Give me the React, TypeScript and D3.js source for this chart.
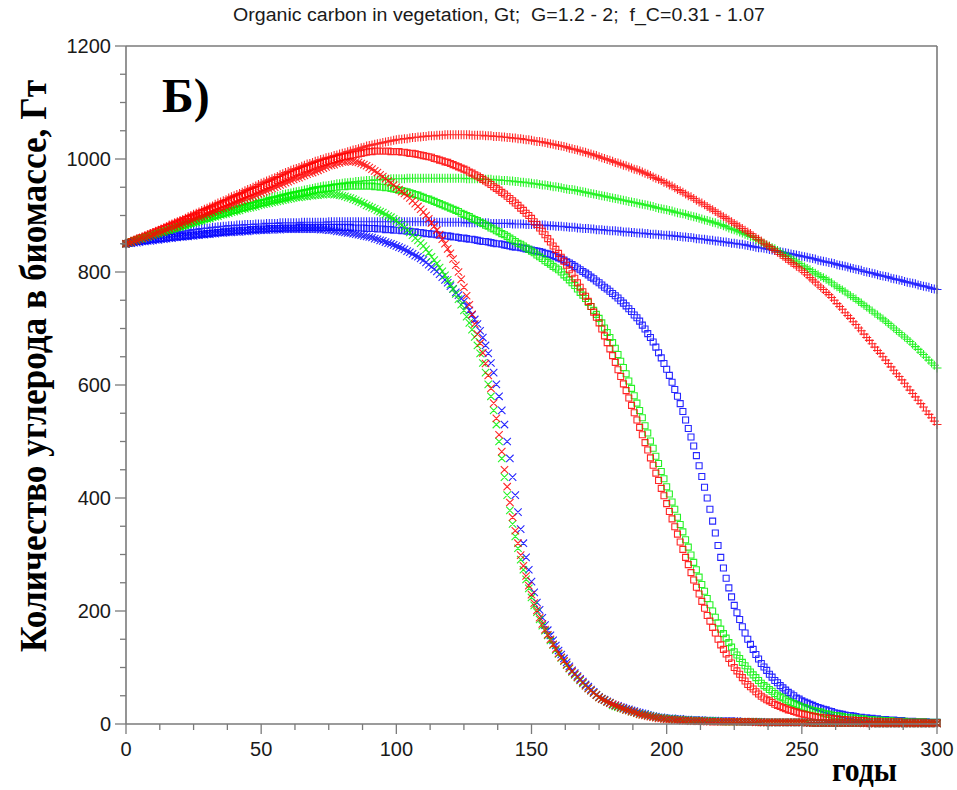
import React from "react";
import * as d3 from "d3";

// ---- data (one value per year, t = 0..300) ----
const bluePlus = [850,851,853,854,855,856,857,858,860,861,
862,863,864,865,866,867,868,869,870,870,
871,872,872,873,874,875,875,876,877,877,
878,878,879,879,880,880,881,881,882,882,
882,883,883,883,884,884,884,884,885,885,
885,885,886,886,886,886,886,887,887,887,
887,887,887,887,887,888,888,888,888,888,
888,888,888,888,888,889,889,889,889,889,
889,889,889,889,889,889,889,889,889,889,
889,889,889,889,889,889,889,889,889,889,
889,889,889,889,889,889,889,889,889,889,
889,889,889,889,889,888,888,888,888,888,
888,888,888,888,888,888,887,887,887,887,
887,887,887,887,887,886,886,886,886,886,
886,886,886,885,885,885,885,885,884,884,
884,884,883,883,883,883,882,882,882,881,
881,881,880,880,879,879,879,878,878,877,
877,877,876,876,875,875,875,874,874,873,
873,873,872,872,871,871,871,870,870,869,
869,869,868,868,867,867,867,866,866,865,
865,865,864,864,863,863,862,862,861,861,
860,859,859,858,858,857,856,856,855,855,
854,853,853,852,851,851,850,849,849,848,
847,846,845,844,843,843,842,841,840,839,
838,837,836,835,834,833,832,831,830,829,
828,827,826,825,824,823,821,820,819,818,
817,816,815,813,812,811,810,809,807,806,
805,804,803,801,800,799,798,797,795,794,
793,792,791,789,788,787,786,785,783,782,
781,780,779,777,776,775,774,773,771,770,
769];

const greenPlus = [850,852,853,855,856,858,859,861,862,864,
865,867,868,870,872,874,875,877,879,880,
882,884,885,887,889,891,892,894,896,897,
899,901,902,904,905,907,908,910,911,913,
914,915,917,918,919,921,922,923,924,926,
927,928,929,931,932,933,934,935,937,938,
939,940,941,942,943,944,945,946,947,948,
949,950,951,952,952,953,954,955,956,956,
957,958,958,959,959,960,960,961,961,962,
962,962,963,963,963,964,964,964,965,965,
965,965,965,965,966,966,966,966,966,966,
966,966,966,966,966,966,966,966,966,966,
966,966,966,966,966,966,965,965,965,965,
965,965,964,964,964,964,963,963,963,962,
962,962,961,961,960,960,959,959,958,958,
957,956,956,955,954,954,953,952,951,951,
950,949,948,947,946,946,945,944,943,942,
941,940,939,938,937,936,935,934,933,932,
931,930,929,928,927,926,925,924,923,922,
921,920,919,918,917,916,914,913,912,911,
910,909,908,906,905,904,903,902,900,899,
898,897,895,894,892,891,890,888,887,885,
884,882,880,878,876,875,873,871,869,867,
865,863,861,858,856,853,851,848,846,843,
841,838,835,832,829,827,824,821,818,815,
812,809,806,804,801,798,795,792,790,787,
784,781,777,774,771,768,765,761,758,755,
752,748,745,741,738,734,731,727,724,720,
717,713,709,705,701,697,693,689,685,681,
677,672,668,663,658,654,649,644,639,635,
630];

const redPlus = [850,852,854,856,858,860,862,864,866,868,
870,872,874,876,878,880,883,885,887,889,
891,893,895,898,900,902,904,906,909,911,
913,915,917,920,922,924,926,928,931,933,
935,937,939,941,944,946,948,950,952,955,
957,959,961,963,965,967,969,972,974,976,
978,980,982,983,985,987,989,991,992,994,
996,997,999,1000,1002,1003,1004,1006,1007,1009,
1010,1011,1013,1014,1016,1017,1018,1020,1021,1023,
1024,1025,1026,1027,1028,1029,1030,1031,1032,1033,
1034,1035,1035,1036,1036,1037,1038,1038,1039,1039,
1040,1040,1041,1041,1041,1042,1042,1042,1043,1043,
1043,1043,1043,1043,1043,1043,1043,1043,1042,1042,
1042,1042,1042,1041,1041,1041,1040,1040,1040,1039,
1039,1038,1038,1037,1037,1036,1036,1035,1034,1034,
1033,1032,1031,1031,1030,1029,1028,1027,1026,1025,
1024,1023,1022,1021,1019,1018,1017,1016,1014,1013,
1012,1010,1009,1007,1006,1004,1002,1001,999,998,
996,994,993,991,989,988,986,984,982,981,
979,977,975,973,971,968,966,964,962,959,
957,954,952,949,946,944,941,938,935,933,
930,927,924,922,919,916,913,910,907,904,
901,898,895,892,889,886,883,880,877,874,
871,868,864,861,858,855,851,848,845,841,
838,835,831,828,824,821,817,814,810,807,
803,799,795,790,786,782,777,773,769,764,
760,755,750,744,739,734,728,723,718,712,
707,701,696,690,684,679,673,667,661,656,
650,644,638,632,626,620,615,609,603,597,
591,585,579,573,567,561,554,548,542,536,
530];

const blueSquare = [850,851,852,853,854,854,855,856,856,857,
857,858,859,859,860,860,861,861,862,862,
863,863,864,864,865,865,866,866,867,867,
868,868,869,869,870,870,871,871,872,872,
873,873,873,874,874,874,875,875,875,876,
876,876,876,877,877,877,877,877,878,878,
878,878,878,878,879,879,879,879,879,879,
879,879,879,879,879,879,879,879,879,879,
879,879,879,879,878,878,878,878,878,877,
877,877,877,876,876,876,875,875,875,874,
874,874,873,873,872,872,871,871,870,870,
869,868,868,867,867,866,865,865,864,864,
863,862,862,861,860,860,859,858,858,857,
856,855,854,854,853,852,851,850,850,849,
848,847,846,845,844,844,843,842,841,840,
839,838,837,836,835,833,832,831,829,827,
825,823,821,818,816,813,810,807,804,801,
798,795,791,788,784,781,777,773,770,766,
762,758,754,749,745,740,735,730,724,719,
713,706,699,691,684,676,667,657,648,638,
628,617,605,592,580,567,553,538,523,508,
492,475,457,438,419,400,380,359,338,316,
295,276,258,241,225,210,197,185,172,161,
150,141,132,123,115,107,101,95,88,83,
77,73,68,64,60,56,53,50,46,44,
41,39,37,35,33,31,29,28,26,25,
23,22,20,19,18,17,16,15,15,14,
13,12,12,11,11,10,10,9,9,8,
8,8,7,7,7,6,6,6,5,5,
5,5,4,4,4,4,4,3,3,3,
3];

const greenSquare = [850,852,853,855,856,858,859,861,862,864,
865,867,868,870,871,873,874,876,877,879,
880,882,883,885,886,888,889,891,892,894,
895,896,898,899,901,902,903,905,906,908,
909,910,912,913,914,916,917,918,919,921,
922,923,924,926,927,928,929,930,931,932,
934,935,936,937,938,939,940,941,942,944,
945,946,946,947,948,948,949,950,950,951,
951,951,952,952,952,952,952,952,952,952,
952,952,951,951,950,950,949,949,948,947,
946,945,944,943,942,940,939,937,936,934,
932,930,929,927,925,923,921,919,917,915,
913,911,909,907,904,902,900,898,895,893,
891,888,886,883,881,878,876,873,871,868,
866,863,860,857,854,851,849,846,843,840,
837,834,830,827,824,820,817,814,810,807,
804,800,795,791,786,781,776,770,764,759,
753,746,739,732,725,718,710,701,693,684,
675,665,654,642,631,620,607,594,581,568,
555,542,528,515,501,488,474,461,447,434,
420,407,393,380,366,353,340,326,313,299,
286,273,260,247,235,222,211,200,189,179,
168,160,152,144,136,128,122,116,109,103,
97,92,87,82,77,72,68,65,61,58,
54,51,48,46,43,40,38,36,34,32,
30,29,27,26,24,23,22,21,19,18,
17,16,15,15,14,13,12,12,11,11,
10,10,9,9,8,8,8,7,7,7,
6,6,6,6,5,5,5,5,5,4,
4,4,4,4,4,4,3,3,3,3,
3];

const redSquare = [850,852,854,856,858,860,861,863,865,867,
869,871,873,875,877,879,881,883,885,887,
889,891,893,895,897,899,901,903,905,907,
909,911,913,915,917,919,921,923,925,927,
929,931,933,935,937,939,941,943,945,947,
949,951,953,955,957,959,962,964,966,968,
970,972,974,976,978,980,982,983,985,987,
989,991,992,994,995,997,998,999,1001,1002,
1003,1004,1005,1006,1007,1008,1009,1010,1011,1012,
1013,1013,1014,1014,1014,1014,1014,1014,1013,1013,
1013,1013,1012,1012,1011,1010,1010,1009,1008,1007,
1006,1005,1004,1003,1001,1000,998,997,995,994,
992,990,988,986,984,982,980,977,975,972,
970,967,964,961,958,955,951,948,945,941,
938,934,930,926,922,918,913,909,904,900,
895,889,884,878,872,866,859,853,846,840,
833,826,819,812,804,797,789,781,773,765,
757,748,739,729,720,710,699,687,675,664,
652,640,627,615,602,590,577,564,551,538,
525,512,498,485,471,458,444,431,417,404,
390,376,363,349,336,322,309,295,282,268,
255,242,230,217,205,192,182,171,161,150,
140,132,124,116,108,100,94,88,82,76,
70,66,62,57,53,49,46,43,41,38,
35,33,31,29,27,25,24,22,21,19,
18,17,16,15,14,13,12,12,11,11,
10,10,9,9,8,8,8,7,7,7,
6,6,6,6,5,5,5,5,5,4,
4,4,4,4,4,4,4,3,3,3,
3,3,3,3,3,3,2,2,2,2,
2];

const blueCross = [850,851,851,852,852,853,854,854,855,855,
856,857,857,858,858,859,860,860,861,861,
862,862,863,863,864,864,865,865,866,866,
867,867,868,868,869,869,869,870,870,870,
871,871,871,872,872,872,873,873,873,874,
874,874,874,875,875,875,875,875,876,876,
876,876,876,876,876,876,876,876,876,876,
876,876,875,875,875,874,874,873,872,872,
871,870,869,869,868,867,866,865,864,863,
862,861,859,858,856,855,853,851,850,848,
846,844,842,840,837,835,832,829,827,824,
821,817,813,809,805,801,796,791,786,781,
775,770,764,759,753,748,740,732,724,716,
708,696,684,670,656,639,622,601,580,555,
530,500,470,437,405,375,345,320,295,273,
252,233,215,202,188,175,166,157,148,139,
130,123,116,109,102,95,90,85,80,75,
70,66,61,57,52,48,45,43,40,38,
35,33,32,30,29,27,26,24,23,21,
20,19,18,16,15,14,13,12,12,11,
10,10,10,9,9,9,8,8,8,7,
7,7,7,7,6,6,6,6,6,5,
5,5,5,5,5,5,5,4,4,4,
4,4,4,4,4,4,3,3,3,3,
3,3,3,3,3,3,3,3,3,3,
3,3,3,2,2,2,2,2,2,2,
2,2,2,2,2,2,2,2,2,2,
2,2,2,2,2,2,1,1,1,1,
1,1,1,1,1,1,1,1,1,1,
1,1,1,1,1,1,1,1,1,1,
1];

const greenCross = [850,852,853,855,856,858,859,861,862,864,
865,867,868,870,871,873,874,876,877,879,
880,881,883,884,886,887,888,890,891,893,
894,895,897,898,899,901,902,903,904,906,
907,908,909,911,912,913,914,915,916,918,
919,920,921,922,923,924,925,926,927,928,
929,930,931,932,932,933,934,934,935,935,
936,936,937,937,938,938,938,937,937,936,
935,934,932,931,929,927,925,923,921,918,
916,914,912,909,907,905,902,899,897,894,
891,887,883,879,874,870,865,860,856,851,
846,840,834,827,821,815,808,801,794,786,
778,770,761,752,742,732,721,710,698,685,
670,656,639,622,601,580,555,530,500,470,
437,405,378,354,332,311,291,273,256,240,
224,210,198,185,174,165,157,148,140,131,
124,117,111,104,98,92,87,82,77,72,
68,63,59,55,51,47,44,42,39,37,
33,31,30,28,27,25,24,22,21,19,
18,17,16,15,14,13,12,11,11,10,
9,9,9,8,8,8,7,7,7,6,
6,6,6,6,5,5,5,5,5,5,
4,4,4,4,4,4,4,4,4,4,
4,4,4,4,4,3,3,3,3,3,
3,3,3,3,3,3,3,3,3,3,
3,3,3,2,2,2,2,2,2,2,
2,2,2,2,2,2,2,2,2,2,
2,2,2,2,2,2,1,1,1,1,
1,1,1,1,1,1,1,1,1,1,
1,1,1,1,1,1,1,1,1,1,
1];

const redCross = [850,852,853,855,856,858,860,861,863,864,
866,868,870,871,873,875,877,879,880,882,
884,886,888,889,891,893,895,897,898,900,
902,904,906,908,910,912,913,915,917,919,
921,923,925,927,929,931,932,934,936,938,
940,942,944,946,948,950,952,954,956,958,
960,962,964,966,967,969,971,973,975,976,
978,980,982,984,986,988,989,990,992,993,
995,995,996,996,996,995,994,992,990,988,
985,982,979,976,972,969,965,961,958,954,
950,946,942,939,935,931,926,921,916,911,
906,900,894,887,881,874,866,858,850,841,
833,823,812,800,787,773,758,742,725,708,
690,674,657,638,617,594,568,541,512,482,
450,420,392,366,342,320,299,280,262,245,
229,214,201,188,177,167,158,150,141,133,
125,118,112,105,99,93,88,83,78,73,
68,63,59,55,51,47,44,42,39,37,
35,33,31,29,27,25,24,22,21,19,
17,16,15,14,13,12,11,10,10,9,
8,8,8,7,7,7,6,6,6,5,
5,5,5,5,5,4,4,4,4,4,
4,4,4,4,4,4,4,4,4,4,
4,4,4,3,3,3,3,3,3,3,
3,3,3,3,3,3,3,3,3,3,
3,3,2,2,2,2,2,2,2,2,
2,2,2,2,2,2,2,2,2,2,
2,2,2,1,1,1,1,1,1,1,
1,1,1,1,1,1,1,1,1,1,
1,1,1,1,1,1,1,1,1,1,
1];

const xTickValues = [0, 50, 100, 150, 200, 250, 300];
const yTickValues = [0, 200, 400, 600, 800, 1000, 1200];

const titleText = "Organic carbon in vegetation, Gt;  G=1.2 - 2;  f_C=0.31 - 1.07";
const yTitleText = "Количество углерода в биомассе, Гт";
const xTitleText = "годы";
const panelLabel = "Б)";

const BLUE = "#0000ff";
const GREEN = "#00f000";
const RED = "#ff0000";

type Marker = "plus" | "square" | "cross";
const seriesList: { values: number[]; color: string; marker: Marker }[] = [
  { values: bluePlus, color: BLUE, marker: "plus" },
  { values: greenPlus, color: GREEN, marker: "plus" },
  { values: redPlus, color: RED, marker: "plus" },
  { values: blueSquare, color: BLUE, marker: "square" },
  { values: greenSquare, color: GREEN, marker: "square" },
  { values: redSquare, color: RED, marker: "square" },
  { values: blueCross, color: BLUE, marker: "cross" },
  { values: greenCross, color: GREEN, marker: "cross" },
  { values: redCross, color: RED, marker: "cross" },
];

export default function App() {
  const x = d3.scaleLinear().domain([0, 300]).range([126, 937]);
  const y = d3.scaleLinear().domain([0, 1200]).range([724, 46]);
  const axisColor = "#7a7a7a";
  const labelColor = "#1a1a1a";
  const sans = "'Liberation Sans', Arial, sans-serif";
  const serif = "'Liberation Serif', 'Times New Roman', serif";

  const xMinor = d3.range(0, 300.01, 12.5);
  const yMinor = d3.range(0, 1200.01, 50);

  const markerPath = (values: number[], marker: Marker) =>
    values
      .map((v, i) => {
        const px = x(i);
        const py = y(v);
        if (marker === "plus") return `M${px - 4.5},${py}h9M${px},${py - 4.5}v9`;
        if (marker === "square") return `M${px - 3},${py - 3}h6v6h-6Z`;
        return `M${px - 3.7},${py - 3.7}l7.4,7.4M${px - 3.7},${py + 3.7}l7.4,-7.4`;
      })
      .join("");

  return (
    <svg
      width={957}
      height={790}
      style={{ position: "absolute", left: 0, top: 0, background: "#fff" }}
    >
      <rect x={0} y={0} width={957} height={790} fill="#fff" />
      <text
        x={499}
        y={21}
        textAnchor="middle"
        fontFamily={sans}
        fontSize={18}
        fill={labelColor}
        textLength={532}
        lengthAdjust="spacingAndGlyphs"
        xmlSpace="preserve"
        style={{ whiteSpace: "pre" }}
      >
        {titleText}
      </text>

      {/* data markers */}
      <g fill="none" strokeWidth={1.1}>
        {seriesList.map((s, k) => (
          <path key={k} d={markerPath(s.values, s.marker)} stroke={s.color} strokeOpacity={0.85} />
        ))}
      </g>

      {/* frame */}
      <g stroke={axisColor} strokeWidth={1.6} fill="none">
        <line x1={x(0)} y1={y(1200)} x2={x(300)} y2={y(1200)} />
        <line x1={x(300)} y1={y(1200)} x2={x(300)} y2={y(0)} />
        <line x1={x(0)} y1={y(0)} x2={x(300)} y2={y(0)} />
        <line x1={x(0)} y1={y(0)} x2={x(0)} y2={y(1200)} />
      </g>

      {/* ticks */}
      <g stroke={axisColor} strokeWidth={1.3}>
        {xMinor.map((t) => (
          <line key={"xm" + t} x1={x(t)} x2={x(t)} y1={y(0)} y2={y(0) + (t % 50 === 0 ? 10 : 6)} />
        ))}
        {yMinor.map((t) => (
          <line key={"ym" + t} x1={x(0)} x2={x(0) - (t % 200 === 0 ? 11 : 6)} y1={y(t)} y2={y(t)} />
        ))}
      </g>

      <g fontFamily={sans} fontSize={20} fill={labelColor}>
        {xTickValues.map((t) => (
          <text key={"xl" + t} x={x(t)} y={756} textAnchor="middle">
            {t}
          </text>
        ))}
        {yTickValues.map((t) => (
          <text key={"yl" + t} x={111} y={y(t) + 7} textAnchor="end">
            {t}
          </text>
        ))}
      </g>

      <text x={162} y={112} fontFamily={serif} fontWeight="bold" fontSize={48} fill="#000">
        {panelLabel}
      </text>

      <text
        transform="translate(46,366) rotate(-90)"
        textAnchor="middle"
        fontFamily={serif}
        fontWeight="bold"
        fontSize={37}
        fill="#000"
        textLength={572}
        lengthAdjust="spacingAndGlyphs"
      >
        {yTitleText}
      </text>

      <text
        x={832}
        y={781}
        fontFamily={serif}
        fontWeight="bold"
        fontSize={34}
        fill="#000"
        textLength={65}
        lengthAdjust="spacingAndGlyphs"
      >
        {xTitleText}
      </text>
    </svg>
  );
}
